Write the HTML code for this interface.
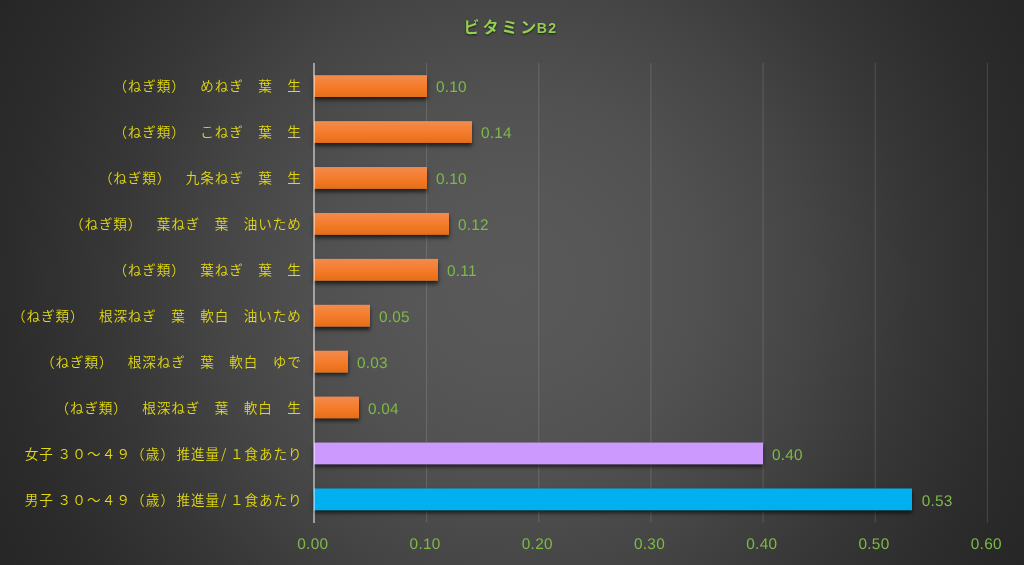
<!DOCTYPE html><html lang="ja"><head><meta charset="utf-8"><title>ビタミンB2</title><style>
html,body{margin:0;padding:0}
body{width:1024px;height:565px;overflow:hidden;position:relative;
 background:#262626 radial-gradient(circle 585px at 512px 282.5px,#595959 0,#575757 88px,#515151 188px,#454545 298px,#373737 400px,#2c2c2c 502px,#272727 573px,#262626 585px);
 font-family:"Liberation Sans","Noto Sans CJK JP",sans-serif}
.t{position:absolute;left:463.6px;width:200px;top:17.2px;height:22px;line-height:22px;text-align:left;color:#92d050;font-weight:bold;font-size:16px;letter-spacing:2.9px;text-shadow:0 1px 2px rgba(0,0,0,.6);white-space:nowrap}
.l{font-size:14px;letter-spacing:1.4px;margin-left:-2.4px}
.wrap{position:absolute;left:0;top:0;width:1024px;height:565px;will-change:transform}
.gs{position:absolute;left:0;top:0}
.ax{position:absolute;top:63px;height:460px;left:313px;width:2px;background:rgba(255,255,255,.48)}
.bar{position:absolute;left:314px;height:22px;box-shadow:0 3px 4px rgba(0,0,0,.63)}
.o{background:linear-gradient(#f18b4e 0,#f57c2b 50%,#e76e17 100%)}
.p{background:#cc99ff}
.b{background:#00b0f0}
.c{position:absolute;left:0;width:301.8px;height:22px;line-height:22px;margin-top:-1px;font-weight:350;text-align:right;color:#e2d912;font-size:13.6px;letter-spacing:.9px;white-space:nowrap;text-spacing-trim:space-all;font-kerning:none;font-family:"Noto Sans CJK JP","Liberation Sans",sans-serif}
.c .k{margin-right:3.6px}
.c .n{letter-spacing:1.15px;margin-right:1.2px}
.c .s{display:inline-block;width:10px;text-align:left;text-indent:1px}
.w{width:302.5px!important}
.v{position:absolute;height:22px;line-height:22px;margin-top:1.5px;color:#7eba48;font-size:15.4px;letter-spacing:.25px;text-rendering:geometricPrecision;white-space:nowrap}
.x{position:absolute;top:533.7px;width:60px;height:22px;line-height:22px;text-align:center;color:#7eba48;font-size:15.4px;letter-spacing:.25px;text-rendering:geometricPrecision}
</style></head><body><div class="wrap">
<div class="t">ビタミン<span class="l">B2</span></div>
<svg class="gs" width="1024" height="565" viewBox="0 0 1024 565"><g stroke="#fff" stroke-opacity=".13" stroke-width="1.15"><line x1="426.60" y1="63" x2="426.60" y2="522.6"/><line x1="538.75" y1="63" x2="538.75" y2="522.6"/><line x1="650.90" y1="63" x2="650.90" y2="522.6"/><line x1="763.05" y1="63" x2="763.05" y2="522.6"/><line x1="875.20" y1="63" x2="875.20" y2="522.6"/><line x1="987.35" y1="63" x2="987.35" y2="522.6"/></g></svg>
<div class="c" style="top:75px">（ねぎ類）　めねぎ　葉　生</div>
<div class="bar o" style="top:75px;width:113px;transform:translateY(0.20px) scaleY(.991);transform-origin:0 0"></div>
<div class="v" style="top:75px;left:435.9px">0.10</div>
<div class="c" style="top:121px">（ねぎ類）　こねぎ　葉　生</div>
<div class="bar o" style="top:121px;width:158px;transform:translateY(0.12px) scaleY(.991);transform-origin:0 0"></div>
<div class="v" style="top:121px;left:480.9px">0.14</div>
<div class="c" style="top:167px">（ねぎ類）　九条ねぎ　葉　生</div>
<div class="bar o" style="top:167px;width:113px;transform:translateY(0.04px) scaleY(.991);transform-origin:0 0"></div>
<div class="v" style="top:167px;left:435.9px">0.10</div>
<div class="c" style="top:213px">（ねぎ類）　葉ねぎ　葉　油いため</div>
<div class="bar o" style="top:213px;width:135px;transform:translateY(-0.04px) scaleY(.991);transform-origin:0 0"></div>
<div class="v" style="top:213px;left:457.9px">0.12</div>
<div class="c" style="top:259px">（ねぎ類）　葉ねぎ　葉　生</div>
<div class="bar o" style="top:259px;width:124px;transform:translateY(-0.12px) scaleY(.991);transform-origin:0 0"></div>
<div class="v" style="top:259px;left:446.9px">0.11</div>
<div class="c" style="top:305px">（ねぎ類）　根深ねぎ　葉　軟白　油いため</div>
<div class="bar o" style="top:305px;width:56px;transform:translateY(-0.20px) scaleY(.991);transform-origin:0 0"></div>
<div class="v" style="top:305px;left:378.9px">0.05</div>
<div class="c" style="top:351px">（ねぎ類）　根深ねぎ　葉　軟白　ゆで</div>
<div class="bar o" style="top:351px;width:34px;transform:translateY(-0.28px) scaleY(.991);transform-origin:0 0"></div>
<div class="v" style="top:351px;left:356.9px">0.03</div>
<div class="c" style="top:397px">（ねぎ類）　根深ねぎ　葉　軟白　生</div>
<div class="bar o" style="top:397px;width:45px;transform:translateY(-0.36px) scaleY(.991);transform-origin:0 0"></div>
<div class="v" style="top:397px;left:367.9px">0.04</div>
<div class="c w" style="top:443px"><span class="k">女子</span><span class="n">３０～４９（歳）</span>推進量<span class="s">/</span>１食あたり</div>
<div class="bar p" style="top:443px;width:449px;transform:translateY(-0.44px) scaleY(.991);transform-origin:0 0"></div>
<div class="v" style="top:443px;left:771.9px">0.40</div>
<div class="c w" style="top:489px"><span class="k">男子</span><span class="n">３０～４９（歳）</span>推進量<span class="s">/</span>１食あたり</div>
<div class="bar b" style="top:489px;width:598px;transform:translateY(-0.52px) scaleY(.991);transform-origin:0 0"></div>
<div class="v" style="top:489px;left:921.7px">0.53</div>
<div class="ax"></div>
<div class="x" style="left:282.8px">0.00</div>
<div class="x" style="left:395.1px">0.10</div>
<div class="x" style="left:507.3px">0.20</div>
<div class="x" style="left:619.5px">0.30</div>
<div class="x" style="left:731.8px">0.40</div>
<div class="x" style="left:844.0px">0.50</div>
<div class="x" style="left:956.3px">0.60</div>
</div></body></html>
